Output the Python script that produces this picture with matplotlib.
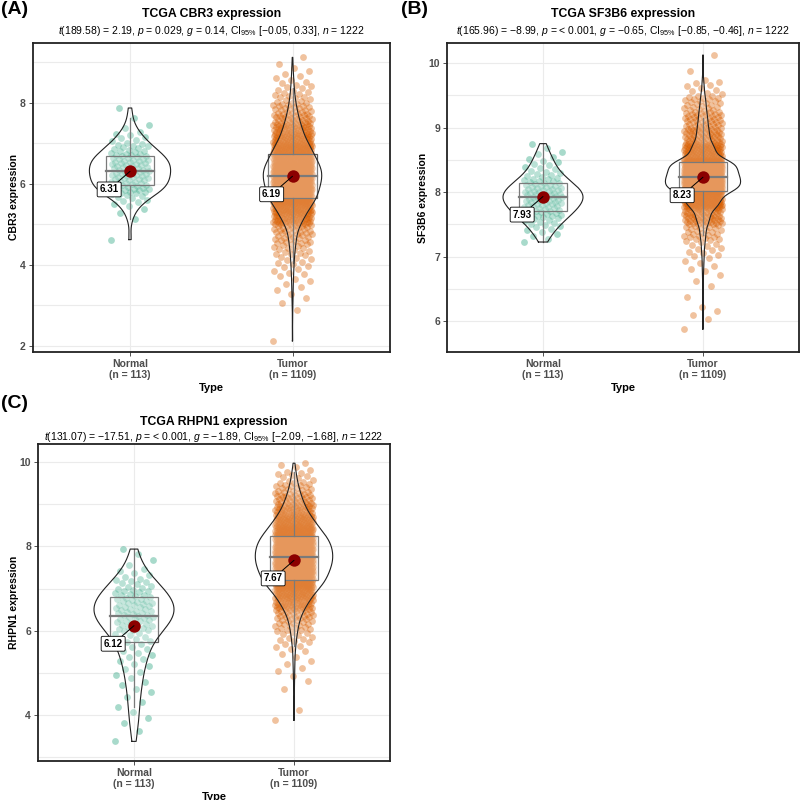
import numpy as np
import matplotlib
matplotlib.use('Agg')
import matplotlib.pyplot as plt

plt.rcParams['font.family'] = ['Liberation Sans', 'DejaVu Sans']
plt.rcParams['mathtext.fontset'] = 'custom'
plt.rcParams['mathtext.rm'] = 'Liberation Sans'
plt.rcParams['mathtext.it'] = 'Liberation Sans:italic'

groups = ['Normal', 'Tumor']
group_n = [113, 1109]
colors = ['#1B9E77', '#D95F02']

# expression values read off the picture as histogram counts
# (start of first bin, bin width, counts per bin)
cbr3_normal = (4.5, 0.25, [1, 0, 1, 3, 8, 18, 19, 20, 19, 12, 7, 3, 1, 1])
cbr3_tumor = (2.0, 0.25, [1, 0, 0, 1, 2, 3, 4, 6, 8, 12, 18, 23, 52, 75, 115, 125,
                          140, 140, 110, 90, 60, 45, 30, 20, 12, 8, 5, 3, 1])
sf3b6_normal = (7.2, 0.1, [2, 3, 5, 7, 10, 12, 14, 15, 13, 10, 7, 5, 4, 3, 2, 1])
sf3b6_tumor = (5.75, 0.25, [1, 4, 1, 3, 6, 12, 25, 60, 150, 320, 290, 105, 55, 40,
                            25, 10, 1, 1])
rhpn1_normal = (3.25, 0.25, [1, 1, 2, 2, 2, 3, 3, 4, 5, 6, 8, 13, 16, 16, 13, 9, 5, 2, 2])
rhpn1_tumor = (3.75, 0.25, [1, 1, 0, 1, 2, 3, 3, 6, 10, 16, 25, 48, 70, 110, 125, 140,
                            140, 130, 100, 70, 45, 30, 18, 10, 5])

cbr3_means = [6.31, 6.19]
sf3b6_means = [7.93, 8.23]
rhpn1_means = [6.12, 7.67]

panels = [
    dict(tag='(A)', title='TCGA CBR3 expression', ylabel='CBR3 expression',
         sub=r'$t$(189.58) = 2.19, $p$ = 0.029, $g$ = 0.14, CI$_{95\%}$ [−0.05, 0.33], $n$ = 1222',
         data=[cbr3_normal, cbr3_tumor], means=cbr3_means,
         ylim=(1.85, 9.48), ticks=[2, 4, 6, 8], minor=[3, 5, 7, 9],
         rect=[32.5, 43, 390, 352], tag_xy=(1, 9), title_y=14, sub_y=30.5),
    dict(tag='(B)', title='TCGA SF3B6 expression', ylabel='SF3B6 expression',
         sub=r'$t$(165.96) = −8.99, $p$ = < 0.001, $g$ = −0.65, CI$_{95\%}$ [−0.85, −0.46], $n$ = 1222',
         data=[sf3b6_normal, sf3b6_tumor], means=sf3b6_means,
         ylim=(5.52, 10.31), ticks=[6, 7, 8, 9, 10], minor=[6.5, 7.5, 8.5, 9.5],
         rect=[447, 43, 799, 352], tag_xy=(401, 9), title_y=14, sub_y=30.5),
    dict(tag='(C)', title='TCGA RHPN1 expression', ylabel='RHPN1 expression',
         sub=r'$t$(131.07) = −17.51, $p$ = < 0.001, $g$ = −1.89, CI$_{95\%}$ [−2.09, −1.68], $n$ = 1222',
         data=[rhpn1_normal, rhpn1_tumor], means=rhpn1_means,
         ylim=(2.91, 10.43), ticks=[4, 6, 8, 10], minor=[3, 5, 7, 9],
         rect=[38, 444, 390, 761], tag_xy=(1, 403), title_y=422.5, sub_y=437.5),
]


def expand(spec):
    start, step, counts = spec
    vals = []
    for i, c in enumerate(counts):
        for j in range(c):
            vals.append(start + step * i + step * (j + 0.5) / c)
    return np.array(vals)


def kde(v, grid):
    n = len(v)
    q1, q3 = np.percentile(v, [25, 75])
    bw = 0.9 * min(v.std(ddof=1), (q3 - q1) / 1.34) * n ** -0.2
    z = (grid[:, None] - v[None, :]) / bw
    return np.exp(-0.5 * z ** 2).sum(1) / (n * bw * np.sqrt(2 * np.pi))


W = H = 800
fig = plt.figure(figsize=(8, 8), dpi=100)

for p in panels:
    l, t, r, b = p['rect']
    ax = fig.add_axes([l / W, 1 - b / H, (r - l) / W, (b - t) / H])
    vals = [expand(d) for d in p['data']]

    # violins (scale = area)
    grids = [np.linspace(v.min(), v.max(), 300) for v in vals]
    dens = [kde(v, g) for v, g in zip(vals, grids)]
    dmax = max(d.max() for d in dens)

    for i, v in enumerate(vals):
        x0 = i + 1
        k = np.arange(len(v))
        jit = ((k * 0.6180339887) % 1 - 0.5) * 0.24
        ax.scatter(x0 + jit, v, s=24, color=colors[i], alpha=0.38, lw=0, zorder=2)

    for i, v in enumerate(vals):
        x0 = i + 1
        q1, med, q3 = np.percentile(v, [25, 50, 75])
        iqr = q3 - q1
        lo = v[v >= q1 - 1.5 * iqr].min()
        hi = v[v <= q3 + 1.5 * iqr].max()
        bc = '#5A5A5A'
        ax.add_patch(plt.Rectangle((x0 - 0.15, q1), 0.3, q3 - q1, facecolor='white',
                                   alpha=0.2, edgecolor='none', zorder=3))
        ax.add_patch(plt.Rectangle((x0 - 0.15, q1), 0.3, q3 - q1, facecolor='none',
                                   edgecolor=bc, lw=0.9, zorder=3))
        ax.plot([x0 - 0.15, x0 + 0.15], [med, med], color=bc, lw=1.6, zorder=3)
        ax.plot([x0, x0], [q3, hi], color=bc, lw=0.9, zorder=3)
        ax.plot([x0, x0], [lo, q1], color=bc, lw=0.9, zorder=3)

        hw = 0.25 * dens[i] / dmax
        g = grids[i]
        ax.fill_betweenx(g, x0 - hw, x0 + hw, color='white', alpha=0.2, lw=0, zorder=4)
        ax.plot(np.r_[x0 - hw, (x0 + hw)[::-1], x0 - hw[0]],
                np.r_[g, g[::-1], g[0]], color='#222222', lw=0.8, zorder=4)

        m = p['means'][i]
        ax.scatter([x0], [m], s=80, color='#8B0000', zorder=6, lw=0)
        ax.annotate(f'{m:.2f}', xy=(x0, m), xytext=(-15, -13), textcoords='offset points',
                    ha='center', va='center', fontsize=7, fontweight='bold', zorder=7,
                    bbox=dict(boxstyle='round,pad=0.25,rounding_size=0.15', fc='white',
                              ec='black', lw=0.6),
                    arrowprops=dict(arrowstyle='-', color='black', lw=0.7,
                                    shrinkA=0, shrinkB=0))

    ax.set_xlim(0.4, 2.6)
    ax.set_ylim(*p['ylim'])
    ax.set_xticks([1, 2])
    ax.set_xticklabels([f'{g}\n(n = {n})' for g, n in zip(groups, group_n)],
                       fontsize=7.5, fontweight='bold', color='#4D4D4D', linespacing=1.1)
    ax.set_yticks(p['ticks'])
    ax.set_yticklabels([str(v) for v in p['ticks']], fontsize=7.5, fontweight='bold',
                       color='#4D4D4D')
    ax.set_yticks(p['minor'], minor=True)
    ax.tick_params(axis='both', which='major', length=3, width=0.6, color='#333333', pad=2)
    ax.tick_params(axis='y', which='minor', length=0)
    ax.grid(True, which='both', color='#EBEBEB', lw=0.8, zorder=0)
    ax.set_axisbelow(True)
    for s in ax.spines.values():
        s.set_linewidth(1.3)
        s.set_color('#222222')
    ax.set_xlabel('Type', fontsize=8, fontweight='bold', labelpad=2)
    ax.set_ylabel(p['ylabel'], fontsize=7.5, fontweight='bold', labelpad=0.5)

    cx = (l + r) / 2 / W
    fig.text(cx, 1 - p['title_y'] / H, p['title'], ha='center', va='center', fontsize=8.8,
             fontweight='bold')
    fig.text(cx, 1 - p['sub_y'] / H, p['sub'], ha='center', va='center', fontsize=7.5)
    fig.text(p['tag_xy'][0] / W, 1 - p['tag_xy'][1] / H, p['tag'], ha='left', va='center',
             fontsize=14, fontweight='bold')

fig.savefig('out.png', dpi=100)
